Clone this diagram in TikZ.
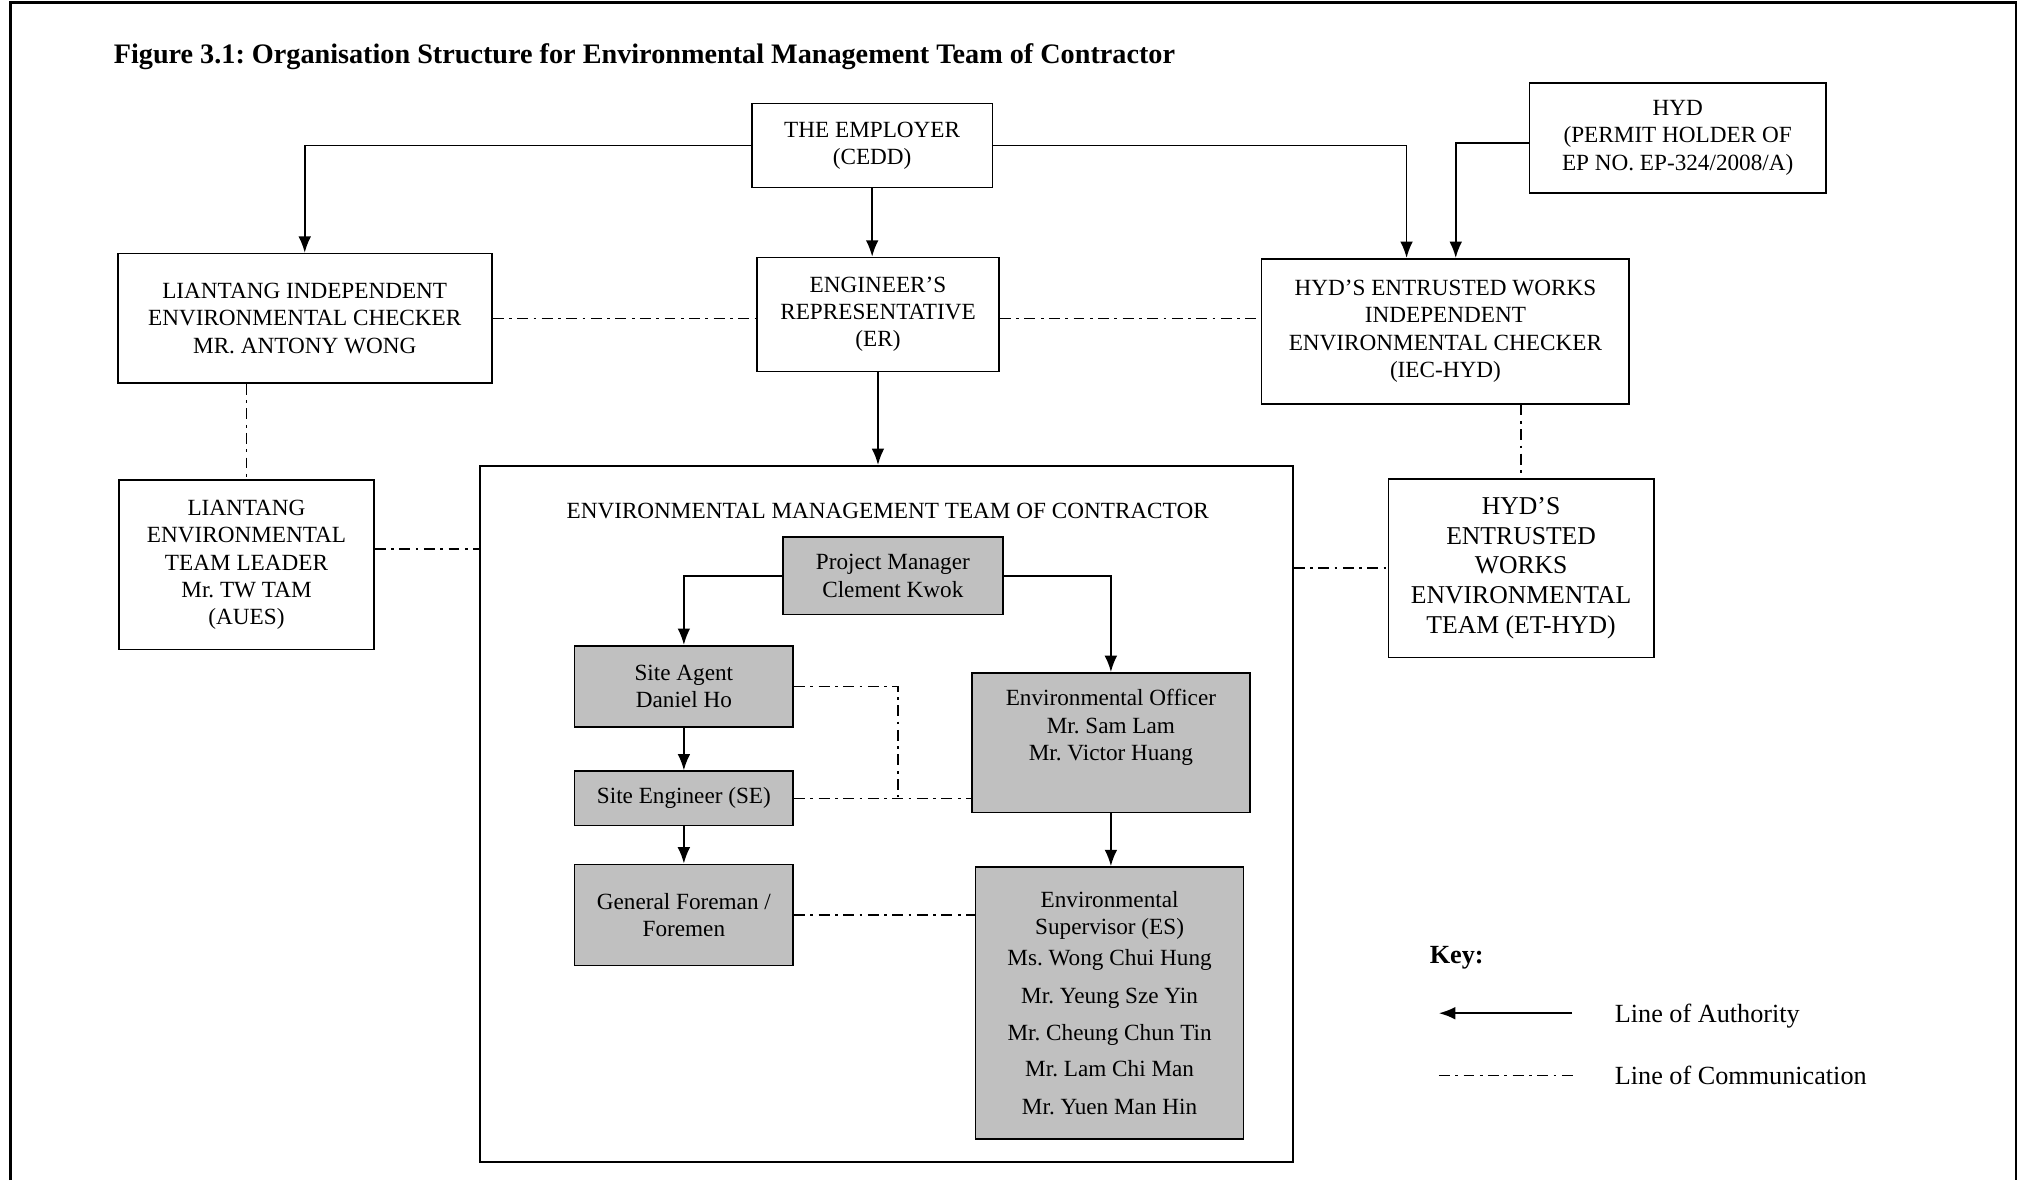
\documentclass[tikz,border=0pt]{standalone}
\usepackage{fontspec}
\setmainfont{Liberation Serif}
\usepackage{tikz}
\usetikzlibrary{arrows.meta,positioning,calc}
\frenchspacing

\definecolor{boxgray}{RGB}{192,192,192}
\tikzset{
  wbox/.style={draw, line width=0.9pt, align=center, inner sep=2pt, font=\fontsize{12.75}{15}\selectfont},
  gbox/.style={wbox, fill=boxgray},
  auth/.style={-{Latex[length=9pt,width=7pt]}, line width=1pt},
  comm/.style={line width=0.8pt, dash pattern=on 6pt off 3pt on 1.5pt off 3pt},
}

\begin{document}
\begin{tikzpicture}[x=0.025cm, y=-0.025cm]
\useasboundingbox (0,0) rectangle (1568,912);
\draw[line width=1.4pt] (8,912) -- (8,2) -- (1558,2) -- (1558,912);

\node[anchor=base west, font=\fontsize{15.5}{18}\selectfont\bfseries, name=title] at (83,49)
  {Figure 3.1: Organisation Structure for Environmental Management Team of Contractor};

% top boxes
\node[wbox,name=emp,minimum width=4.65cm,minimum height=1.625cm] at (674,112.5) {THE EMPLOYER\\(CEDD)};
\node[wbox,name=hyd,minimum width=5.725cm,minimum height=2.125cm] at (1296.5,106.5) {HYD\\(PERMIT HOLDER OF\\EP NO. EP-324/2008/A)};
\node[wbox,name=liec,minimum width=7.225cm,minimum height=2.5cm] at (235.5,246) {LIANTANG INDEPENDENT\\ENVIRONMENTAL CHECKER\\MR. ANTONY WONG};
\node[wbox,name=er,minimum width=4.675cm,minimum height=2.2cm] at (678.5,243) {ENGINEER’S\\REPRESENTATIVE\\(ER)};
\node[wbox,name=iechyd,minimum width=7.1cm,minimum height=2.8cm] at (1117,256) {HYD’S ENTRUSTED WORKS\\INDEPENDENT\\ENVIRONMENTAL CHECKER\\(IEC-HYD)};
\node[wbox,name=liet,minimum width=4.925cm,minimum height=3.275cm] at (190.5,436.5) {LIANTANG\\ENVIRONMENTAL\\TEAM LEADER\\Mr. TW TAM\\(AUES)};
\node[wbox,name=ethyd,minimum width=5.125cm,minimum height=3.45cm,font=\fontsize{14.1}{16.4}\selectfont] at (1175.5,439) {HYD’S\\ENTRUSTED\\WORKS\\ENVIRONMENTAL\\TEAM (ET-HYD)};

% contractor team
\node[wbox,name=emt,minimum width=15.7cm,minimum height=13.45cm] at (685,629) {};
\node[font=\fontsize{12.75}{15}\selectfont,name=emtlabel] at (686,395) {ENVIRONMENTAL MANAGEMENT TEAM OF CONTRACTOR};
\node[gbox,name=pm,minimum width=4.25cm,minimum height=1.5cm] at (690,445) {Project Manager\\Clement Kwok};
\node[gbox,name=sa,minimum width=4.225cm,minimum height=1.575cm] at (528.5,530.5) {Site Agent\\Daniel Ho};
\node[gbox,name=se,minimum width=4.225cm,minimum height=1.05cm] at (528.5,617) {Site Engineer (SE)};
\node[gbox,name=gf,minimum width=4.225cm,minimum height=1.95cm] at (528.5,707) {General Foreman /\\Foremen};
\node[gbox,name=eo,minimum width=5.375cm,minimum height=2.7cm] at (858.5,574) {Environmental Officer\\Mr. Sam Lam\\Mr. Victor Huang\\\strut};
\node[gbox,name=es,minimum width=5.175cm,minimum height=5.25cm] at (857.5,775) {Environmental\\Supervisor (ES)\\[2pt]Ms. Wong Chui Hung\\[5.5pt]Mr. Yeung Sze Yin\\[5.5pt]Mr. Cheung Chun Tin\\[5pt]Mr. Lam Chi Man\\[5.5pt]Mr. Yuen Man Hin};
\coordinate (cj) at (694,616);

% key
\node[anchor=west, font=\fontsize{14.4}{17}\selectfont\bfseries, name=keytitle] at (1100,740) {Key:};
\coordinate (ka1) at (1215,783);
\coordinate (ka2) at (1112,783);
\coordinate (kc1) at (1112,831);
\coordinate (kc2) at (1216,831);
\node[anchor=west, font=\fontsize{14.4}{17}\selectfont, name=keyauth] at (1243,785) {Line of Authority};
\node[anchor=west, font=\fontsize{14.4}{17}\selectfont, name=keycomm] at (1243,831) {Line of Communication};

% authority lines
\draw[auth] (emp.west) -| (liec.north);
\draw[auth] (emp.south) -- (emp.south |- er.north);
\draw[auth] (emp.east) -| ([xshift=-0.75cm]iechyd.north);
\draw[auth] ([yshift=-0.1cm]hyd.west) -| ([xshift=0.2cm]iechyd.north);
\draw[auth] (er.south) -- (er.south |- emt.north);
\draw[auth] (pm.west) -| (sa.north);
\draw[auth] (pm.east) -| (eo.north);
\draw[auth] (sa.south) -- (se.north);
\draw[auth] (se.south) -- (gf.north);
\draw[auth] (eo.south) -- (eo.south |- es.north);
\draw[auth] (ka1) -- (ka2);

% communication lines
\draw[comm] (liec.east) -- (liec.east -| er.west);
\draw[comm] (liec.east -| er.east) -- (liec.east -| iechyd.west);
\draw[comm] (liet.north |- liec.south) -- (liet.north);
\draw[comm] (ethyd.north |- iechyd.south) -- (ethyd.north);
\draw[comm] ([yshift=0.31cm]liet.east) -- ([yshift=0.31cm]liet.east -| emt.west);
\draw[comm] (ethyd.west -| emt.east) -- (ethyd.west);
\draw[comm] (sa.east) -| (cj);
\draw[comm] (se.east) -- (se.east -| eo.west);
\draw[comm] (gf.east) -- (gf.east -| es.west);
\draw[comm] (kc1) -- (kc2);

\end{tikzpicture}
\end{document}
